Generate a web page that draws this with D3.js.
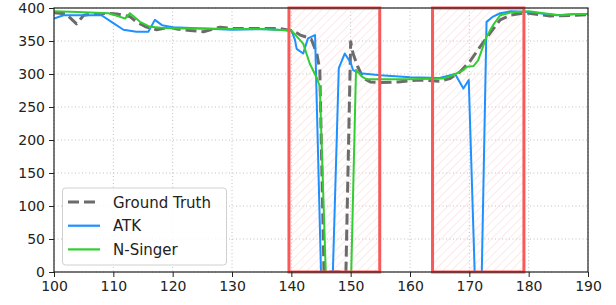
<!DOCTYPE html>
<html>
<head>
<meta charset="utf-8">
<script src="https://cdn.jsdelivr.net/npm/d3@7"></script>
<style>
html,body{margin:0;padding:0;background:#fff;}
svg{display:block;font-family:"DejaVu Sans",sans-serif;}
</style>
</head>
<body>
<svg id="chart" width="616" height="305"></svg>
<script>
// ---- data ----
const xTicks = [100,110,120,130,140,150,160,170,180,190];
const yTicks = [0,50,100,150,200,250,300,350,400];
const seriesNames = ["Ground Truth","ATK","N-Singer"];

const gtX = [100,102,103.8,105,106.6,109.2,110.6,112.8,113.9,115.6,117.3,119.5,120.7,122.9,125.2,128,130,134,138,140,140.6,141.5,142.5,143.4,144.3,144.8,145.5,149.2,150,150.4,151.2,152.1,153.3,155,158,161.7,165,166.7,168.4,170.1,171.8,173.5,175.2,176.9,179,180,183.6,188,190];
const gtY = [393,391,376,389,391,392,391,387,379,371,367,371,368,366,364,371,369,369,369,366,364,359,356,352,331,306,0,0,349,331,311,294,288,287,288,291,289,293,303,319,341,362,382,389,392,392,388,389,390];

const atkX = [100,101.6,106.6,108,110,111.7,113.9,115.9,117,118.2,120,125,130,135,140,140.6,140.9,142,142.8,144,145,147,148,149,150,150.4,151.6,155,160,165,167.6,169,169.9,170.9,172.1,172.9,174,175.2,177,180,184.7,188,190];
const atkY = [384,389,389,389,377,367,364,364,382,374,371,369,367,368,366,352,338,331,354,359,0,0,309,331,317,306,301,298,295,294,300,278,291,0,0,379,387,392,395,394,389,391,391];

const nsX = [100,104,106,109.2,111,112,112.8,114.5,116.2,118,120.9,125,130,135,140,140.9,142,143.1,144.3,144.8,145.8,150.1,150.9,151.9,152.7,156,160,165.6,167.3,169,169.6,170.7,171.5,172.9,174,175.2,176.9,180,182.5,185.3,188,190];
const nsY = [395,394,393,392,387,384,392,379,371.5,370,369,369,368,368,366,357,346,316,294,281,0,0,306,296,292,292,292,293,298.5,306,311,312,321,356.5,374,389,393,395,392,389,391,391];

const regionStart = [139.6,163.8];
const regionEnd = [154.9,179.2];

// ---- layout ----
const svg = d3.select("#chart");
const L = 54, R = 588, T = 8, B = 272;
const x = d3.scaleLinear().domain([100,190]).range([L,R]);
const y = d3.scaleLinear().domain([0,400]).range([B,T]);

const defs = svg.append("defs");
defs.append("clipPath").attr("id","clip").append("rect")
  .attr("x",L).attr("y",T).attr("width",R-L).attr("height",B-T);
const pat = defs.append("pattern").attr("id","hatch")
  .attr("patternUnits","userSpaceOnUse").attr("width",6).attr("height",6)
  .attr("patternTransform","rotate(45)");
pat.append("line").attr("x1",0).attr("y1",0).attr("x2",0).attr("y2",6)
  .attr("stroke","#fbd3d3").attr("stroke-width",1);

// grid
const grid = svg.append("g");
grid.selectAll(".gx").data(xTicks).join("line")
  .attr("x1",d=>x(d)).attr("x2",d=>x(d)).attr("y1",T).attr("y2",B)
  .attr("stroke","#b0b0b0").attr("stroke-width",0.8).attr("stroke-dasharray","1,2.5");
grid.selectAll(".gy").data(yTicks).join("line")
  .attr("x1",L).attr("x2",R).attr("y1",d=>y(d)).attr("y2",d=>y(d))
  .attr("stroke","#b0b0b0").attr("stroke-width",0.8).attr("stroke-dasharray","1,2.5");

// region fills
const regions = regionStart.map((s,i)=>({s, e: regionEnd[i]}));
svg.append("g").selectAll("rect").data(regions).join("rect")
  .attr("x",d=>x(d.s)).attr("width",d=>x(d.e)-x(d.s))
  .attr("y",y(400)).attr("height",y(0)-y(400))
  .attr("fill","url(#hatch)").attr("stroke","none");

// lines
const plot = svg.append("g").attr("clip-path","url(#clip)");
const line = d3.line().x(d=>x(d[0])).y(d=>y(d[1]));
const series = [
  {name:seriesNames[0], xs:gtX, ys:gtY, color:"#6b6b6b", width:3, dash:"11,5"},
  {name:seriesNames[1], xs:atkX, ys:atkY, color:"#1e90ff", width:2, dash:null},
  {name:seriesNames[2], xs:nsX, ys:nsY, color:"#32cd32", width:2, dash:null}
];
series.forEach(s=>{
  plot.append("path").datum(s.xs.map((v,i)=>[v,s.ys[i]]))
    .attr("d",line).attr("fill","none").attr("stroke",s.color)
    .attr("stroke-width",s.width).attr("stroke-linejoin","round")
    .attr("stroke-dasharray",s.dash);
});

// region borders
svg.append("g").selectAll("rect").data(regions).join("rect")
  .attr("x",d=>x(d.s)).attr("width",d=>x(d.e)-x(d.s))
  .attr("y",y(400)).attr("height",y(0)-y(400))
  .attr("fill","none").attr("stroke","#f85a5a").attr("stroke-width",3);

// axes
const xAxis = svg.append("g").attr("transform",`translate(0,${B})`)
  .call(d3.axisBottom(x).tickValues(xTicks).tickSize(5).tickPadding(4).tickFormat(d3.format("d")));
const yAxis = svg.append("g").attr("transform",`translate(${L},0)`)
  .call(d3.axisLeft(y).tickValues(yTicks).tickSize(5).tickPadding(4).tickFormat(d3.format("d")));
[xAxis,yAxis].forEach(a=>{
  a.select(".domain").remove();
  a.selectAll("text").attr("font-size",14).attr("fill","#222").attr("font-family","DejaVu Sans");
  a.selectAll("line").attr("stroke","#222").attr("stroke-width",1);
});
// frame
svg.append("rect").attr("x",L).attr("y",T).attr("width",R-L).attr("height",B-T)
  .attr("fill","none").attr("stroke","#222").attr("stroke-width",1.2);

// legend
const lg = svg.append("g");
lg.append("rect").attr("x",62.5).attr("y",188).attr("width",164).attr("height",77)
  .attr("rx",3).attr("fill","rgba(255,255,255,0.85)").attr("stroke","#d0d0d0");
series.forEach((s,i)=>{
  const yy = 202 + i*23.7;
  lg.append("line").attr("x1",68).attr("x2",100).attr("y1",yy).attr("y2",yy)
    .attr("stroke",s.color).attr("stroke-width",s.width === 3 ? 3 : 2.2).attr("stroke-dasharray",s.dash);
  lg.append("text").attr("x",113).attr("y",yy+5.5).attr("font-size",15)
    .attr("fill","#222").text(s.name);
});
</script>
</body>
</html>
